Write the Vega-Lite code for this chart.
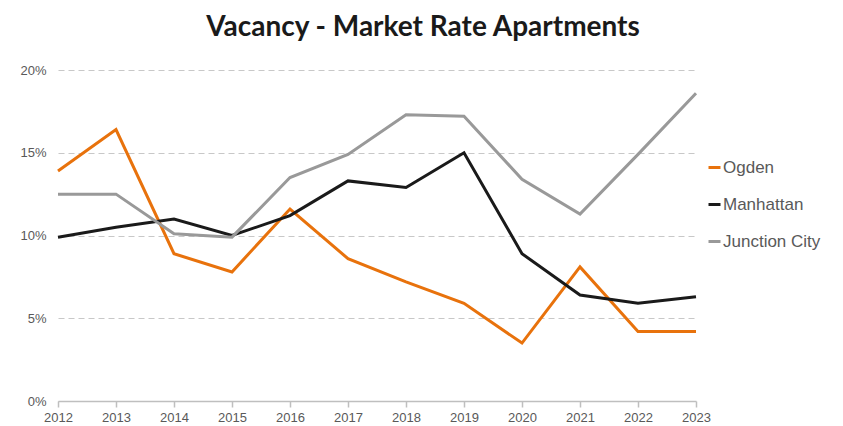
{
  "$schema": "https://vega.github.io/schema/vega-lite/v6.json",
  "width": 638,
  "height": 331,
  "autosize": {"type": "none"},
  "padding": {"left": 58, "top": 70, "right": 147, "bottom": 25},
  "background": "white",
  "title": {
    "text": "Vacancy - Market Rate Apartments",
    "font": "Lato",
    "fontSize": 28,
    "fontWeight": "bold",
    "color": "#1a1a1a",
    "anchor": "middle",
    "dx": 46,
    "offset": 22
  },
  "data": {
    "values": [
      {"year": "2012", "city": "Ogden", "v": 13.9},
      {"year": "2013", "city": "Ogden", "v": 16.4},
      {"year": "2014", "city": "Ogden", "v": 8.9},
      {"year": "2015", "city": "Ogden", "v": 7.8},
      {"year": "2016", "city": "Ogden", "v": 11.6},
      {"year": "2017", "city": "Ogden", "v": 8.6},
      {"year": "2018", "city": "Ogden", "v": 7.2},
      {"year": "2019", "city": "Ogden", "v": 5.9},
      {"year": "2020", "city": "Ogden", "v": 3.5},
      {"year": "2021", "city": "Ogden", "v": 8.1},
      {"year": "2022", "city": "Ogden", "v": 4.2},
      {"year": "2023", "city": "Ogden", "v": 4.2},
      {"year": "2012", "city": "Manhattan", "v": 9.9},
      {"year": "2013", "city": "Manhattan", "v": 10.5},
      {"year": "2014", "city": "Manhattan", "v": 11.0},
      {"year": "2015", "city": "Manhattan", "v": 10.0},
      {"year": "2016", "city": "Manhattan", "v": 11.2},
      {"year": "2017", "city": "Manhattan", "v": 13.3},
      {"year": "2018", "city": "Manhattan", "v": 12.9},
      {"year": "2019", "city": "Manhattan", "v": 15.0},
      {"year": "2020", "city": "Manhattan", "v": 8.9},
      {"year": "2021", "city": "Manhattan", "v": 6.4},
      {"year": "2022", "city": "Manhattan", "v": 5.9},
      {"year": "2023", "city": "Manhattan", "v": 6.3},
      {"year": "2012", "city": "Junction City", "v": 12.5},
      {"year": "2013", "city": "Junction City", "v": 12.5},
      {"year": "2014", "city": "Junction City", "v": 10.1},
      {"year": "2015", "city": "Junction City", "v": 9.9},
      {"year": "2016", "city": "Junction City", "v": 13.5},
      {"year": "2017", "city": "Junction City", "v": 14.9},
      {"year": "2018", "city": "Junction City", "v": 17.3},
      {"year": "2019", "city": "Junction City", "v": 17.2},
      {"year": "2020", "city": "Junction City", "v": 13.4},
      {"year": "2021", "city": "Junction City", "v": 11.3},
      {"year": "2022", "city": "Junction City", "v": 14.9},
      {"year": "2023", "city": "Junction City", "v": 18.6}
    ]
  },
  "mark": {"type": "line", "strokeWidth": 3, "clip": false},
  "encoding": {
    "x": {
      "field": "year",
      "type": "ordinal",
      "scale": {"type": "point", "padding": 0},
      "axis": {
        "title": null,
        "labelAngle": 0,
        "labelFont": "Liberation Sans",
        "labelFontSize": 13,
        "labelColor": "#595959",
        "labelPadding": 4,
        "domainColor": "#bfbfbf",
        "domainWidth": 1.5,
        "tickColor": "#bfbfbf",
        "tickSize": 6,
        "tickWidth": 1.5,
        "grid": false
      }
    },
    "y": {
      "field": "v",
      "type": "quantitative",
      "scale": {"domain": [0, 20]},
      "axis": {
        "title": null,
        "values": [0, 5, 10, 15, 20],
        "labelExpr": "datum.value + '%'",
        "labelFont": "Liberation Sans",
        "labelFontSize": 13,
        "labelColor": "#595959",
        "labelPadding": 12,
        "domain": false,
        "ticks": false,
        "grid": true,
        "gridColor": "#c8c8c8",
        "gridDash": [6, 4],
        "gridWidth": 1.2
      }
    },
    "color": {
      "field": "city",
      "type": "nominal",
      "sort": ["Ogden", "Manhattan", "Junction City"],
      "scale": {
        "domain": ["Ogden", "Manhattan", "Junction City"],
        "range": ["#e8720c", "#1a1a1a", "#999999"]
      },
      "legend": {
        "title": null,
        "orient": "none",
        "legendX": 648,
        "legendY": 89,
        "symbolType": "stroke",
        "symbolStrokeWidth": 3,
        "symbolSize": 144,
        "labelFont": "Liberation Sans",
        "labelFontSize": 17,
        "labelColor": "#595959",
        "labelOffset": 0,
        "rowPadding": 19
      }
    }
  },
  "config": {"view": {"stroke": null}}
}
